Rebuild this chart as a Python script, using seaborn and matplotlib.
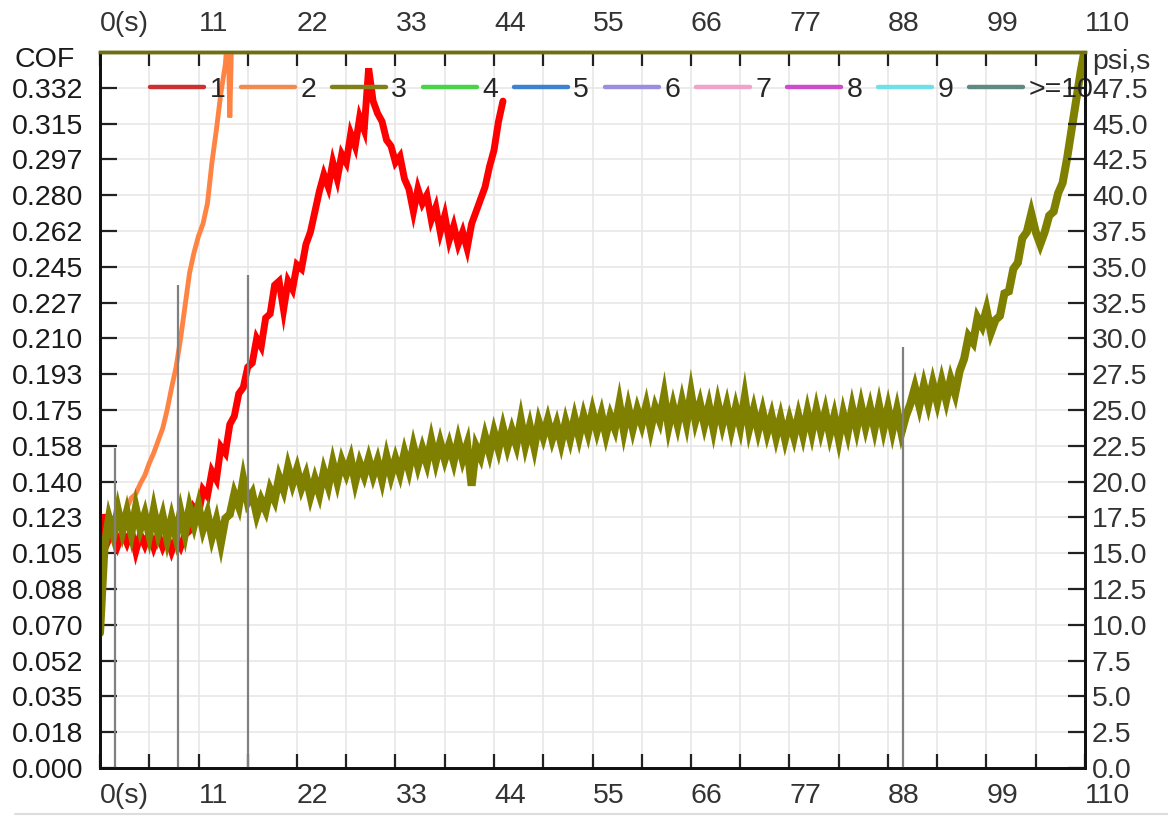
import numpy as np
import pandas as pd
import matplotlib
matplotlib.use("Agg")
import matplotlib.pyplot as plt
import seaborn as sns
from matplotlib.lines import Line2D

# ---------------- data ----------------
# test 1 (red), sampled every 0.5 s from 0 to 45 s
t1 = np.arange(0, 45.01, 0.5)
cof1 = [
    0.100, 0.124, 0.112, 0.117, 0.109, 0.115, 0.110, 0.116, 0.106, 0.114,
    0.109, 0.115, 0.108, 0.114, 0.108, 0.113, 0.106, 0.112, 0.108, 0.114,
    0.116, 0.127, 0.124, 0.136, 0.133, 0.145, 0.141, 0.157, 0.154, 0.168,
    0.172, 0.183, 0.186, 0.196, 0.198, 0.210, 0.206, 0.220, 0.222, 0.236,
    0.238, 0.224, 0.238, 0.234, 0.246, 0.244, 0.256, 0.262, 0.272, 0.282,
    0.290, 0.284, 0.296, 0.288, 0.300, 0.296, 0.310, 0.304, 0.318, 0.312,
    0.342, 0.326, 0.320, 0.316, 0.307, 0.304, 0.296, 0.299, 0.288, 0.283,
    0.272, 0.283, 0.276, 0.280, 0.268, 0.274, 0.262, 0.270, 0.258, 0.265,
    0.256, 0.262, 0.254, 0.266, 0.272, 0.278, 0.284, 0.294, 0.302, 0.316,
    0.326,
]

# test 2 (orange)
t2 = [0.0, 0.5, 1.0, 1.5, 2.0, 2.5, 3.0, 3.5, 4.0, 4.5, 5.0, 5.5, 6.0, 6.5,
      7.0, 7.5, 8.0, 8.5, 9.0, 9.5, 10.0, 10.5, 11.0, 11.5, 12.0, 12.5,
      13.0, 13.5, 14.0, 14.3, 14.5, 14.8, 15.5]
cof2 = [0.065, 0.110, 0.118, 0.116, 0.121, 0.119, 0.127, 0.132, 0.134, 0.139,
        0.143, 0.149, 0.154, 0.160, 0.166, 0.175, 0.186, 0.196, 0.210, 0.226,
        0.242, 0.252, 0.260, 0.266, 0.276, 0.296, 0.312, 0.330, 0.344, 0.362,
        0.318, 0.375, 0.390]

# test 3 (olive), sampled every 0.5 s from 0 to 110 s
t3 = np.arange(0, 110.01, 0.5)
cof3 = [
    0.066, 0.108, 0.122, 0.114, 0.126, 0.116, 0.125, 0.115, 0.127, 0.117,
    0.124, 0.114, 0.126, 0.115, 0.123, 0.112, 0.122, 0.113, 0.125, 0.115,
    0.127, 0.119, 0.128, 0.117, 0.124, 0.113, 0.121, 0.110, 0.122, 0.124,
    0.134, 0.128, 0.141, 0.130, 0.134, 0.124, 0.131, 0.126, 0.136, 0.131,
    0.142, 0.136, 0.147, 0.139, 0.146, 0.137, 0.143, 0.133, 0.141, 0.134,
    0.145, 0.138, 0.149, 0.140, 0.150, 0.144, 0.151, 0.140, 0.149, 0.143,
    0.151, 0.143, 0.150, 0.141, 0.152, 0.143, 0.151, 0.144, 0.154, 0.146,
    0.157, 0.148, 0.156, 0.149, 0.160, 0.150, 0.159, 0.151, 0.158, 0.150,
    0.160, 0.151, 0.158, 0.138, 0.157, 0.152, 0.162, 0.154, 0.164, 0.156,
    0.166, 0.157, 0.165, 0.158, 0.170, 0.158, 0.167, 0.157, 0.169, 0.162,
    0.170, 0.161, 0.168, 0.159, 0.169, 0.161, 0.171, 0.162, 0.172, 0.164,
    0.174, 0.165, 0.173, 0.163, 0.172, 0.166, 0.178, 0.165, 0.176, 0.166,
    0.175, 0.168, 0.177, 0.166, 0.176, 0.170, 0.182, 0.167, 0.177, 0.168,
    0.179, 0.169, 0.183, 0.170, 0.178, 0.168, 0.177, 0.166, 0.178, 0.168,
    0.177, 0.166, 0.176, 0.167, 0.181, 0.166, 0.175, 0.165, 0.174, 0.164,
    0.172, 0.162, 0.171, 0.161, 0.170, 0.162, 0.172, 0.163, 0.174, 0.164,
    0.175, 0.165, 0.174, 0.163, 0.172, 0.161, 0.173, 0.164, 0.176, 0.166,
    0.177, 0.167, 0.176, 0.166, 0.177, 0.166, 0.176, 0.165, 0.175, 0.164,
    0.172, 0.178, 0.186, 0.177, 0.187, 0.178, 0.188, 0.179, 0.189, 0.180,
    0.190, 0.183, 0.194, 0.200, 0.211, 0.208, 0.220, 0.216, 0.224, 0.213,
    0.219, 0.221, 0.232, 0.233, 0.244, 0.247, 0.259, 0.262, 0.271, 0.262,
    0.256, 0.262, 0.270, 0.272, 0.281, 0.286, 0.298, 0.312, 0.326, 0.340,
    0.352,
]

# event markers (vertical grey lines)
event_t = [1.68, 8.71, 16.53, 89.67]
event_top = [0.1565, 0.236, 0.241, 0.206]

legend_labels = ["1", "2", "3", "4", "5", "6", "7", "8", "9", ">=10"]
legend_colors = ["#cc3030", "#f08a50", "#808018", "#48d448", "#3c82d0",
                 "#9a8ee0", "#f0a2c8", "#cc4ccc", "#70e0e8", "#5e8a82"]
line_colors = {"1": "#ff0000", "2": "#ff8444", "3": "#808000"}

x_ticks = [0, 11, 22, 33, 44, 55, 66, 77, 88, 99, 110]
x_labels = ["0(s)", "11", "22", "33", "44", "55", "66", "77", "88", "99", "110"]
cof_ticks = [0.0, 0.0175, 0.035, 0.0525, 0.07, 0.0875, 0.105, 0.1225, 0.14,
             0.1575, 0.175, 0.1925, 0.21, 0.2275, 0.245, 0.2625, 0.28,
             0.2975, 0.315, 0.3325]
cof_labels = ["0.000", "0.018", "0.035", "0.052", "0.070", "0.088", "0.105",
              "0.123", "0.140", "0.158", "0.175", "0.193", "0.210", "0.227",
              "0.245", "0.262", "0.280", "0.297", "0.315", "0.332"]
psi_ticks = [0, 2.5, 5, 7.5, 10, 12.5, 15, 17.5, 20, 22.5, 25, 27.5, 30,
             32.5, 35, 37.5, 40, 42.5, 45, 47.5]
psi_labels = ["0.0", "2.5", "5.0", "7.5", "10.0", "12.5", "15.0", "17.5",
              "20.0", "22.5", "25.0", "27.5", "30.0", "32.5", "35.0", "37.5",
              "40.0", "42.5", "45.0", "47.5"]

# ---------------- figure ----------------
sns.set_style("white")
plt.rcParams["font.family"] = ["Liberation Sans", "DejaVu Sans"]

W, H = 1168, 817
FS = 20.5
fig = plt.figure(figsize=(W / 100, H / 100), dpi=100)
ax = fig.add_axes([100 / W, 49 / H, 985 / W, 716 / H])

df = pd.concat([
    pd.DataFrame({"time": t1, "COF": cof1, "test": "1"}),
    pd.DataFrame({"time": t2, "COF": cof2, "test": "2"}),
    pd.DataFrame({"time": t3, "COF": cof3, "test": "3"}),
], ignore_index=True)

order = ["1", "2", "3"]
sns.lineplot(data=df, x="time", y="COF", hue="test", hue_order=order,
             palette=line_colors, estimator=None, sort=False, lw=5,
             legend=False, ax=ax, zorder=3)
# per-series widths
widths = {"1": 5.0, "2": 3.5, "3": 5.8}
for line, key in zip(ax.get_lines(), order):
    line.set_linewidth(widths[key])
    line.set_solid_joinstyle("miter")

ax.vlines(event_t, 0, event_top, color="#808080", lw=1.6, zorder=4)

ax.set_xlim(0, 110)
ax.set_ylim(0, 0.35)
ax.set_xlabel("")
ax.set_ylabel("")

# grid
grid_x = [5.5 * k for k in range(1, 20)]
for gx in grid_x:
    ax.axvline(gx, color="#e6e6e6", lw=1.1, zorder=0)
for gy in cof_ticks[1:]:
    ax.axhline(gy, color="#e6e6e6", lw=1.1, zorder=0)

# x ticks (top & bottom)
ax.set_xticks(x_ticks)
ax.set_xticklabels(x_labels)
ax.set_xticks([5.5 * k for k in range(1, 20, 2)], minor=True)
ax.tick_params(axis="x", which="both", direction="in", length=10, width=1.6,
               color="#222222", top=True, bottom=True, labeltop=True,
               labelbottom=True, labelsize=FS, labelcolor="#333333", pad=11)
for t in ax.xaxis.get_major_ticks():
    t.label1.set_horizontalalignment("left")
    t.label2.set_horizontalalignment("left")

# left y ticks
ax.set_yticks(cof_ticks)
ax.set_yticklabels(cof_labels)
ax.tick_params(axis="y", direction="in", length=12, width=1.6,
               color="#222222", labelsize=FS, labelcolor="#1a1a1a", pad=12)

# right axis
ax2 = ax.twinx()
ax2.set_ylim(0, 50)
ax2.set_yticks(psi_ticks)
ax2.set_yticklabels(psi_labels)
ax2.tick_params(axis="y", direction="in", length=12, width=1.6,
                color="#222222", labelsize=FS, labelcolor="#333333", pad=5)
ax2.grid(False)

for a in (ax, ax2):
    for side in ("left", "right", "bottom"):
        a.spines[side].set_color("#111111")
        a.spines[side].set_linewidth(2)
    a.spines["top"].set_color("#6e6e14")
    a.spines["top"].set_linewidth(2.5)

# axis titles
fig.text(15 / W, 1 - 60 / H, "COF", fontsize=FS, color="#1a1a1a",
         ha="left", va="center")
fig.text(1092 / W, 1 - 62 / H, "psi,s", fontsize=FS, color="#333333",
         ha="left", va="center")

# legend
handles = [Line2D([0], [0], color=c, lw=3.2) for c in legend_colors]
leg = ax.legend(handles, legend_labels, ncol=10, loc="center left",
                bbox_to_anchor=(0.051, 0.947), frameon=False,
                handlelength=1.9, handletextpad=0.18, columnspacing=0.56,
                borderpad=0, borderaxespad=0, fontsize=FS)
leg.set_zorder(10)

# faint bottom rule of the original panel
fig.add_artist(Line2D([15 / W, 1], [1 - 814 / H, 1 - 814 / H],
                      color="#dddddd", lw=1.5))

fig.savefig("out.png", dpi=100)
